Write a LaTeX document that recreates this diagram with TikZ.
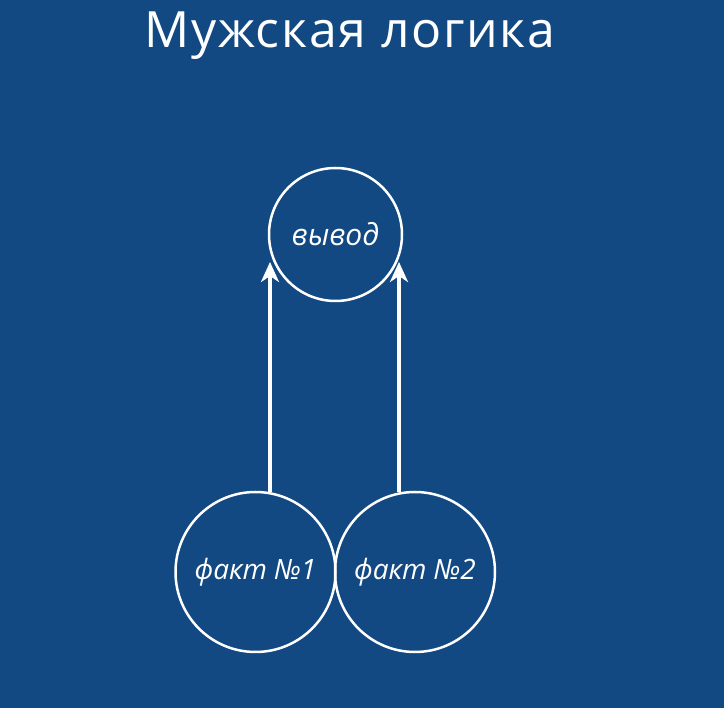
\documentclass[tikz,border=0pt]{standalone}
\usepackage{fontspec}
\setmainfont{Open Sans}
\usetikzlibrary{arrows.meta}
\definecolor{bg}{RGB}{18,73,130}
\begin{document}
\begin{tikzpicture}[x=1pt,y=-1pt,
  circ/.style={circle,draw=white,line width=2.5pt,minimum size=#1,inner sep=0pt,text=white,font=\fontsize{28}{32}\selectfont\itshape},
  arr/.style={draw=white,line width=4pt,-{Stealth[length=20pt,width=18pt,inset=6pt]}}]
\fill[bg] (0,0) rectangle (724,708);
\useasboundingbox (0,0) rectangle (724,708);
\node[text=white,font=\fontsize{50}{56}\selectfont\addfontfeature{LetterSpace=3.5},anchor=base] (title) at (350,48) {Мужская логика};
\node[circ=133pt,font=\fontsize{30}{34}\selectfont\itshape] (vyvod) at (335.5,234.5) {вывод};
\node[circ=160pt] (f1) at (255.5,572) {факт №1};
\node[circ=160pt] (f2) at (415,572) {факт №2};
\coordinate (t1) at (270,262);
\coordinate (t2) at (399,262);
\draw[arr] (f1.north -| t1) ++(0,1) -- (t1);
\draw[arr] (f2.north -| t2) ++(0,1) -- (t2);
\end{tikzpicture}
\end{document}
